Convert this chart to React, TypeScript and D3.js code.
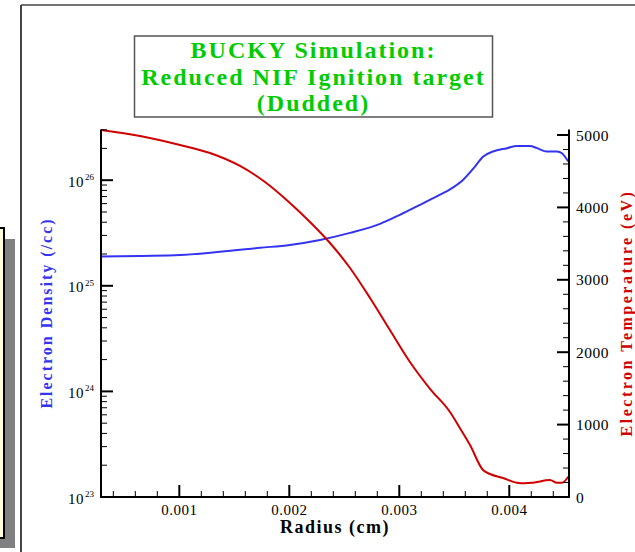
import React from "react";
import * as d3 from "d3";

// ---- data ----
const densityRadius = [0.000288, 0.000643, 0.001006, 0.00137, 0.001734, 0.002006, 0.002279, 0.002552, 0.002825, 0.003006, 0.003188, 0.00337, 0.003461, 0.003579, 0.003688, 0.003761, 0.003852, 0.003979, 0.00407, 0.004188, 0.004252, 0.004343, 0.004434, 0.004479, 0.004536];
const densityValues = [1.89e25, 1.92e25, 1.96e25, 2.1e25, 2.29e25, 2.44e25, 2.72e25, 3.17e25, 3.86e25, 4.7e25, 5.84e25, 7.3e25, 8.2e25, 1.006e26, 1.345e26, 1.67e26, 1.87e26, 2.01e26, 2.11e26, 2.11e26, 2.01e26, 1.87e26, 1.87e26, 1.8e26, 1.5e26];

const tempRadius = [0.000288, 0.000643, 0.001006, 0.001279, 0.001552, 0.001779, 0.002006, 0.002188, 0.00237, 0.002552, 0.002734, 0.002915, 0.003097, 0.003279, 0.003461, 0.003552, 0.003643, 0.003761, 0.003825, 0.003943, 0.00407, 0.004143, 0.004215, 0.00437, 0.004434, 0.004479, 0.004536];
const tempValues = [5069, 4986, 4862, 4751, 4572, 4351, 4061, 3798, 3508, 3163, 2749, 2306, 1865, 1495, 1174, 950, 718, 373, 318, 262, 197, 189, 197, 235, 197, 197, 280];

const xTickValues = [0.001, 0.002, 0.003, 0.004];
const xTickLabels = ["0.001", "0.002", "0.003", "0.004"];
const leftTickExponents = [23, 24, 25, 26];
const rightTickValues = [0, 1000, 2000, 3000, 4000, 5000];
const rightTickLabels = ["0", "1000", "2000", "3000", "4000", "5000"];

const titleLines = ["BUCKY Simulation:", "Reduced NIF Ignition target", "(Dudded)"];
const xTitle = "Radius (cm)";
const leftTitle = "Electron Density (/cc)";
const rightTitle = "Electron Temperature (eV)";

const X_DOMAIN: [number, number] = [0.000288, 0.004543];
const D_DOMAIN: [number, number] = [1e23, 3.02e26];
const T_DOMAIN: [number, number] = [0, 5076];

const SERIF = "'Liberation Serif', 'Times New Roman', serif";

export default function App() {
  const L = 101, R = 569, T = 129.5, B = 497;
  const x = d3.scaleLinear().domain(X_DOMAIN).range([L, R]);
  const yD = d3.scaleLog().domain(D_DOMAIN).range([B, T]);
  const yT = d3.scaleLinear().domain(T_DOMAIN).range([B, T]);

  const densLine = d3
    .line<number>()
    .curve(d3.curveMonotoneX)
    .x((_, i) => x(densityRadius[i]))
    .y((d) => yD(d))(densityValues) as string;
  const tempLine = d3
    .line<number>()
    .curve(d3.curveMonotoneX)
    .x((_, i) => x(tempRadius[i]))
    .y((d) => yT(d))(tempValues) as string;

  // minor ticks
  const xMinor: number[] = d3.range(2, 23).map((k) => k * 0.0002).filter((v) => v >= X_DOMAIN[0] && v <= X_DOMAIN[1] && Math.abs(v * 1000 - Math.round(v * 1000)) > 1e-6);
  const dMinor: number[] = [];
  for (let e = 23; e <= 26; e++) for (let m = 2; m <= 9; m++) {
    const v = m * Math.pow(10, e);
    if (v <= D_DOMAIN[1]) dMinor.push(v);
  }
  const tMinor = d3.range(200, 5076, 200).filter((v) => v % 1000 !== 0);

  const blue = "#3333f0";
  const red = "#d00000";
  const green = "#00cc00";

  return (
    <svg width={635} height={552} style={{ position: "absolute", left: 0, top: 0, background: "#fff" }} fontFamily={SERIF}>
      <rect x={0} y={0} width={635} height={552} fill="#fff" />
      {/* page frame */}
      <rect x={-20} y={239} width={35} height={309} fill="#808080" />
      <rect x={-20} y={228} width={24} height={310} fill="#ffffd8" stroke="#000" strokeWidth={2} />
      <line x1={21} y1={5} x2={21} y2={552} stroke="#444" strokeWidth={2} />
      <line x1={21} y1={5} x2={635} y2={5} stroke="#444" strokeWidth={1.5} />

      {/* title box */}
      <rect x={134.5} y={36} width={358} height={81} fill="#fff" stroke="#555" strokeWidth={1.5} />
      {titleLines.map((t, i) => (
        <text key={i} x={313.5} y={58 + i * 26.5} textAnchor="middle" fontSize={24} fontWeight="bold" fill={green} letterSpacing={2}>
          {t}
        </text>
      ))}

      {/* curves */}
      <path d={densLine} fill="none" stroke={blue} strokeWidth={2} />
      <path d={tempLine} fill="none" stroke={red} strokeWidth={2} />

      {/* axes lines */}
      <line x1={L} y1={T} x2={L} y2={B + 1} stroke="#000" strokeWidth={2} />
      <line x1={R} y1={T} x2={R} y2={B + 1} stroke="#000" strokeWidth={2} />
      <line x1={L - 1} y1={B} x2={R + 1} y2={B} stroke="#000" strokeWidth={2} />

      {/* x ticks */}
      {xTickValues.map((v, i) => (
        <g key={"xt" + i}>
          <line x1={x(v)} x2={x(v)} y1={B} y2={B - 12} stroke="#000" strokeWidth={2} />
          <text x={x(v)} y={515} textAnchor="middle" fontSize={15} fill="#000" letterSpacing={0.5}>
            {xTickLabels[i]}
          </text>
        </g>
      ))}
      {xMinor.map((v, i) => (
        <line key={"xm" + i} x1={x(v)} x2={x(v)} y1={B} y2={B - 6} stroke="#000" strokeWidth={1} />
      ))}

      {/* left log ticks */}
      {leftTickExponents.map((e) => {
        const yy = yD(Math.pow(10, e));
        return (
          <g key={"lt" + e}>
            <line x1={L} x2={L + 12} y1={yy} y2={yy} stroke="#000" strokeWidth={2} />
            <text x={84} y={yy + 6.5} textAnchor="end" fontSize={15} fill="#000" letterSpacing={0.5}>
              10
            </text>
            <text x={85} y={yy} fontSize={9} fill="#000">
              {e}
            </text>
          </g>
        );
      })}
      {dMinor.map((v, i) => (
        <line key={"dm" + i} x1={L} x2={L + 6} y1={yD(v)} y2={yD(v)} stroke="#000" strokeWidth={1} />
      ))}

      {/* right ticks */}
      {rightTickValues.map((v, i) => (
        <g key={"rt" + i}>
          <line x1={R} x2={R - 12} y1={yT(v)} y2={yT(v)} stroke="#000" strokeWidth={2} />
          <text x={576} y={yT(v) + 5.5} fontSize={15.5} fill="#000" letterSpacing={0.5}>
            {rightTickLabels[i]}
          </text>
        </g>
      ))}
      {tMinor.map((v, i) => (
        <line key={"tm" + i} x1={R} x2={R - 6} y1={yT(v)} y2={yT(v)} stroke="#000" strokeWidth={1} />
      ))}

      {/* axis titles */}
      <text x={335} y={533} textAnchor="middle" fontSize={18} fontWeight="bold" fill="#000" letterSpacing={1.5}>
        {xTitle}
      </text>
      <text transform={`translate(52,313) rotate(-90)`} textAnchor="middle" fontSize={16} fontWeight="bold" fill={blue} letterSpacing={2}>
        {leftTitle}
      </text>
      <text transform={`translate(632,313) rotate(-90)`} textAnchor="middle" fontSize={16} fontWeight="bold" fill={red} letterSpacing={2.5}>
        {rightTitle}
      </text>
    </svg>
  );
}
